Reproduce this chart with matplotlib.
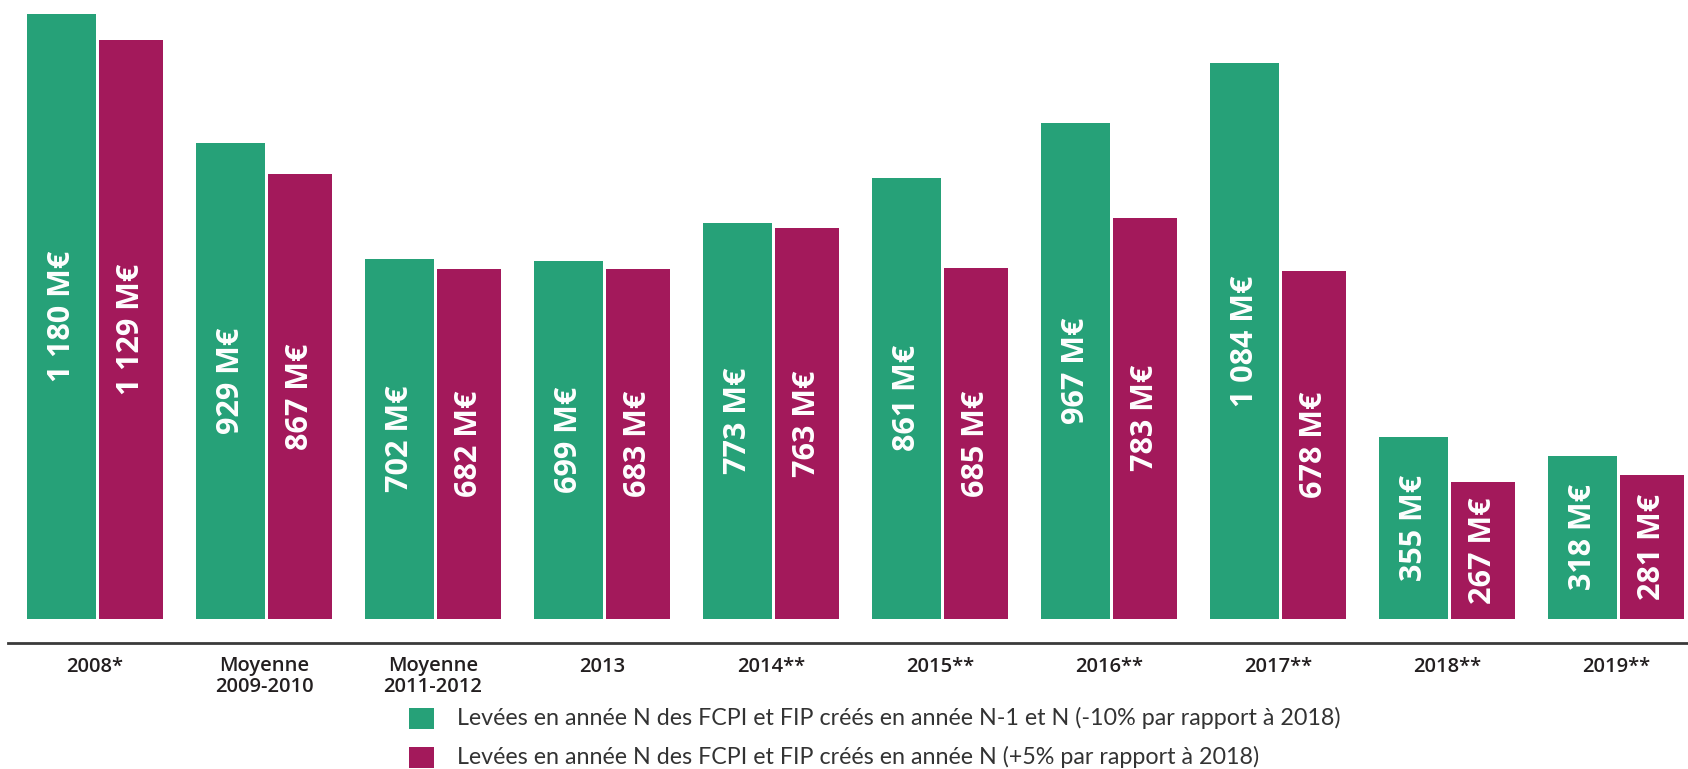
import matplotlib
matplotlib.use("Agg")
import matplotlib.pyplot as plt
from matplotlib.lines import Line2D
from matplotlib.patches import Rectangle
import numpy as np

# ---- data ----
categories = ["2008*", "Moyenne\n2009-2010", "Moyenne\n2011-2012", "2013", "2014**",
              "2015**", "2016**", "2017**", "2018**", "2019**"]
green_values = [1180, 929, 702, 699, 773, 861, 967, 1084, 355, 318]
magenta_values = [1129, 867, 682, 683, 763, 685, 783, 678, 267, 281]
legend_labels = [
    "Levées en année N des FCPI et FIP créés en année N-1 et N (-10% par rapport à 2018)",
    "Levées en année N des FCPI et FIP créés en année N (+5% par rapport à 2018)",
]

GREEN = "#26A178"
MAGENTA = "#A3195B"
TEXT = "#231F20"

W, H = 1688, 769
fig = plt.figure(figsize=(W / 100, H / 100), dpi=100)

base_px = 619      # baseline pixel row
top_px = 14        # top of tallest bar
group_px = 169     # group spacing
first_center_px = 95

ax = fig.add_axes([0, (H - base_px) / H, 1, base_px / H])
ax.set_xlim(-first_center_px / group_px, (W - first_center_px) / group_px)
ax.set_ylim(0, max(green_values) * base_px / (base_px - top_px))

x = np.arange(len(categories))
g_left, g_w = -0.402, 0.408
m_left, m_w = 0.024, 0.379
ax.bar(x + g_left, green_values, width=g_w, align="edge", color=GREEN, linewidth=0)
ax.bar(x + m_left, magenta_values, width=m_w, align="edge", color=MAGENTA, linewidth=0)

def fmt(v):
    return f"{v:,}".replace(",", " ") + " M€"

for xi, gv, mv in zip(x, green_values, magenta_values):
    ax.text(xi + g_left + g_w / 2, gv / 2, fmt(gv), rotation=90, ha="center", va="center",
            color="white", fontsize=22, fontweight="bold", family="Open Sans")
    ax.text(xi + m_left + m_w / 2, mv / 2, fmt(mv), rotation=90, ha="center", va="center",
            color="white", fontsize=22, fontweight="bold", family="Open Sans")

for s in ax.spines.values():
    s.set_visible(False)
ax.set_yticks([])
ax.set_xticks(x)
ax.set_xticklabels(categories, fontsize=14.5, color=TEXT, family="Open Sans",
                   fontweight="semibold", linespacing=1.05)
ax.tick_params(axis="x", length=0, pad=27)

# baseline rule below the bars
fig.add_artist(Line2D([8 / W, 1], [1 - 643 / H] * 2, color="#3A3A3A", lw=2,
                      transform=fig.transFigure))

# legend
rows_y = [718, 757]
colors = [GREEN, MAGENTA]
texts = []
for yy, c, lab in zip(rows_y, colors, legend_labels):
    fig.add_artist(Rectangle((409 / W, 1 - (yy + 11) / H), 25 / W, 21 / H,
                             color=c, transform=fig.transFigure, linewidth=0))
    t = fig.text(457 / W, 1 - yy / H, lab, ha="left", va="center", fontsize=14,
                 color="#333333", family="Lato", fontweight="normal")
    texts.append(t)

fig.canvas.draw()
r = fig.canvas.get_renderer()
wpx = texts[0].get_window_extent(r).width
scale = 885 / wpx
for t in texts:
    t.set_fontsize(14 * scale)

fig.savefig("out.png", dpi=100, facecolor="white")
